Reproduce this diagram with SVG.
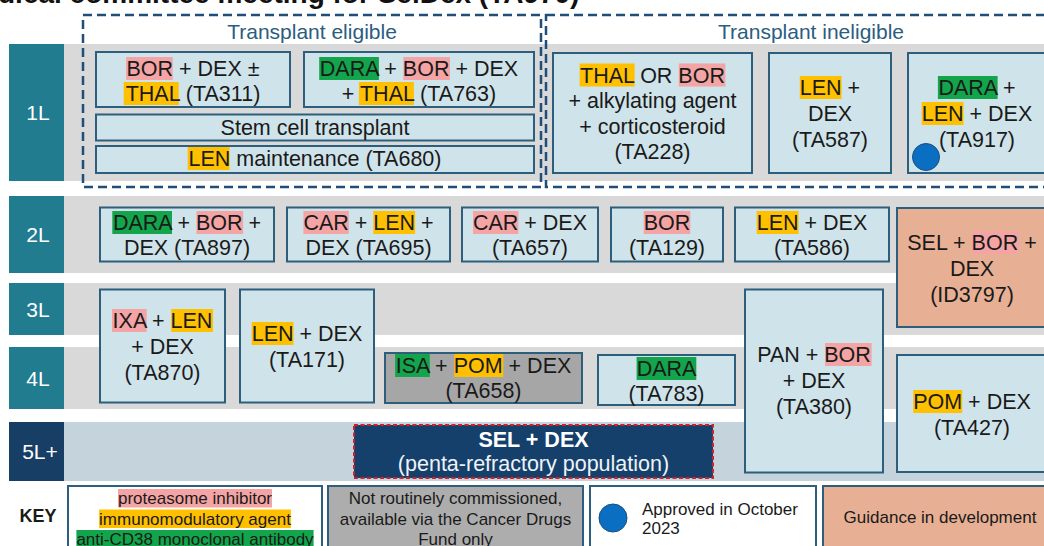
<svg xmlns="http://www.w3.org/2000/svg" width="1044" height="546" viewBox="0 0 1044 546">
<style>
text{font-family:"Liberation Sans",Arial,sans-serif;fill:#1a1a1a}
.t{font-size:21.5px;text-anchor:middle}
.k{font-size:17px;text-anchor:middle}
.lbl{font-size:21px;fill:#fff;text-anchor:middle}
.band{fill:#d9d9d9}
.teal{fill:#217c8f}
.box{fill:#cfe3ea;stroke:#2d5f7c;stroke-width:2}
.sal{fill:#e7af94;stroke:#2d5f7c;stroke-width:2}
.gry{fill:#a6a6a6;stroke:#2d5f7c;stroke-width:2}
.dash{fill:none;stroke:#1f4e79;stroke-width:2.5;stroke-dasharray:9 5}
.hp{fill:#f4a4a4}
.ho{fill:#ffc000}
.hg{fill:#13a54b}
.grp{font-size:21px;fill:#2b5d80;text-anchor:middle}
</style>
<rect width="1044" height="546" fill="#fff"/>
<text x="-2" y="3" style="font-size:28px;font-weight:bold;fill:#111">dical committee meeting for SelDex (TA970)</text>

<g id="bands">
<rect class="band" x="64" y="44" width="980" height="137"/>
<rect class="band" x="64" y="196" width="980" height="77"/>
<rect class="band" x="64" y="283" width="980" height="52"/>
<rect class="band" x="64" y="347" width="980" height="62"/>
<rect x="64" y="422" width="980" height="59" fill="#c5d3dc"/>
</g>

<g id="row-1L"><rect class="teal" x="9" y="44" width="55" height="137"/><text class="lbl" x="38" y="120">1L</text></g>
<g id="row-2L"><rect class="teal" x="9" y="196" width="55" height="77"/><text class="lbl" x="38" y="242">2L</text></g>
<g id="row-3L"><rect class="teal" x="9" y="283" width="55" height="52"/><text class="lbl" x="38" y="317">3L</text></g>
<g id="row-4L"><rect class="teal" x="9" y="347" width="55" height="62"/><text class="lbl" x="38" y="386">4L</text></g>
<g id="row-5L"><rect x="9" y="422" width="55" height="59" fill="#173f66"/><text class="lbl" x="40" y="459">5L+</text></g>

<g id="group-eligible"><rect class="dash" x="83" y="15" width="458" height="172"/><text class="grp" x="312" y="39">Transplant eligible</text></g>
<g id="group-ineligible"><rect class="dash" x="546" y="15" width="510" height="172"/><text class="grp" x="811" y="39">Transplant ineligible</text></g>

<g id="n-ta311"><rect class="box" x="96" y="52" width="194" height="55"/>
<rect class="hp" x="126.1" y="57" width="46.6" height="23"/><rect class="ho" x="123.7" y="82" width="55" height="23"/>
<text class="t" x="193" y="76">BOR + DEX ±</text><text class="t" x="193" y="101">THAL (TA311)</text></g>

<g id="n-ta763"><rect class="box" x="304" y="52" width="230" height="55"/>
<rect class="hg" x="319.2" y="57" width="59.7" height="23"/><rect class="hp" x="403.4" y="57" width="46.6" height="23"/><rect class="ho" x="358.9" y="82" width="55" height="23"/>
<text class="t" x="419" y="76">DARA + BOR + DEX</text><text class="t" x="419" y="101">+ THAL (TA763)</text></g>

<g id="n-sct"><rect class="box" x="96" y="114.5" width="438" height="26"/>
<text class="t" x="315" y="135">Stem cell transplant</text></g>

<g id="n-ta680"><rect class="box" x="96" y="146" width="438" height="27"/>
<rect class="ho" x="187.7" y="147" width="41.8" height="23"/>
<text class="t" x="315" y="166">LEN maintenance (TA680)</text></g>

<g id="n-ta228"><rect class="box" x="553" y="53" width="199" height="120"/>
<rect class="ho" x="579.6" y="63.5" width="55" height="23"/><rect class="hp" x="678.8" y="63.5" width="46.6" height="23"/>
<text class="t" x="652.5" y="82.5">THAL OR BOR</text><text class="t" x="652.5" y="108">+ alkylating agent</text><text class="t" x="652.5" y="133.5">+ corticosteroid</text><text class="t" x="652.5" y="159">(TA228)</text></g>

<g id="n-ta587"><rect class="box" x="769" y="53" width="122" height="120"/>
<rect class="ho" x="799.8" y="76" width="41.8" height="23"/>
<text class="t" x="830" y="95">LEN +</text><text class="t" x="830" y="121">DEX</text><text class="t" x="830" y="147">(TA587)</text></g>

<g id="n-ta917"><rect class="box" x="908" y="53" width="142" height="120"/>
<rect class="hg" x="937.9" y="76" width="59.7" height="23"/><rect class="ho" x="921.7" y="102" width="41.8" height="23"/>
<text class="t" x="977" y="95">DARA +</text><text class="t" x="977" y="121">LEN + DEX</text><text class="t" x="977" y="147">(TA917)</text>
<circle cx="926" cy="157" r="13.5" fill="#0a6fc2" stroke="#1f4e79" stroke-width="1"/></g>

<g id="n-ta897"><rect class="box" x="100" y="207.5" width="174" height="54"/>
<rect class="hg" x="112.3" y="211" width="59.7" height="23"/><rect class="hp" x="196.5" y="211" width="46.6" height="23"/>
<text class="t" x="187" y="230">DARA + BOR +</text><text class="t" x="187" y="255">DEX (TA897)</text></g>

<g id="n-ta695"><rect class="box" x="287" y="207.5" width="163" height="54"/>
<rect class="hp" x="303.4" y="211" width="45.4" height="23"/><rect class="ho" x="373.3" y="211" width="41.8" height="23"/>
<text class="t" x="368.5" y="230">CAR + LEN +</text><text class="t" x="368.5" y="255">DEX (TA695)</text></g>

<g id="n-ta657"><rect class="box" x="462" y="207.5" width="136" height="54"/>
<rect class="hp" x="473" y="211" width="45.4" height="23"/>
<text class="t" x="530" y="230">CAR + DEX</text><text class="t" x="530" y="255">(TA657)</text></g>

<g id="n-ta129"><rect class="box" x="611" y="207.5" width="112" height="54"/>
<rect class="hp" x="643.7" y="211" width="46.6" height="23"/>
<text class="t" x="667" y="230">BOR</text><text class="t" x="667" y="255">(TA129)</text></g>

<g id="n-ta586"><rect class="box" x="735" y="207.5" width="154" height="54"/>
<rect class="ho" x="756.7" y="211" width="41.8" height="23"/>
<text class="t" x="812" y="230">LEN + DEX</text><text class="t" x="812" y="255">(TA586)</text></g>

<g id="n-id3797"><rect class="sal" x="897" y="208" width="153" height="119"/>
<rect class="hp" x="972" y="231" width="46.6" height="23"/>
<text class="t" x="972" y="250">SEL + BOR +</text><text class="t" x="972" y="276">DEX</text><text class="t" x="972" y="302">(ID3797)</text></g>

<g id="n-ta870"><rect class="box" x="100" y="289.5" width="125" height="113"/>
<rect class="hp" x="112" y="309" width="34.7" height="23"/><rect class="ho" x="171.2" y="309" width="41.8" height="23"/>
<text class="t" x="162.5" y="328">IXA + LEN</text><text class="t" x="162.5" y="354">+ DEX</text><text class="t" x="162.5" y="380">(TA870)</text></g>

<g id="n-ta171"><rect class="box" x="240" y="289.5" width="134" height="113"/>
<rect class="ho" x="251.7" y="322" width="41.8" height="23"/>
<text class="t" x="307" y="341">LEN + DEX</text><text class="t" x="307" y="367">(TA171)</text></g>

<g id="n-ta658"><rect class="gry" x="385" y="353" width="197" height="50"/>
<rect class="hg" x="395.1" y="354" width="34.7" height="23"/><rect class="ho" x="454.3" y="354" width="49" height="23"/>
<text class="t" x="483.5" y="373">ISA + POM + DEX</text><text class="t" x="483.5" y="398">(TA658)</text></g>

<g id="n-ta783"><rect class="box" x="598" y="355" width="137" height="50"/>
<rect class="hg" x="636.6" y="357" width="59.7" height="23"/>
<text class="t" x="666.5" y="376">DARA</text><text class="t" x="666.5" y="401">(TA783)</text></g>

<g id="n-ta380"><rect class="box" x="745" y="289.5" width="138" height="183"/>
<rect class="hp" x="825" y="343" width="46.6" height="23"/>
<text class="t" x="814" y="362">PAN + BOR</text><text class="t" x="814" y="388">+ DEX</text><text class="t" x="814" y="414">(TA380)</text></g>

<g id="n-ta427"><rect class="box" x="897" y="355" width="153" height="117"/>
<rect class="ho" x="913.2" y="390" width="49" height="23"/>
<text class="t" x="972" y="409">POM + DEX</text><text class="t" x="972" y="435">(TA427)</text></g>

<g id="n-seldex"><rect x="354" y="425" width="359" height="53" fill="#15406b" stroke="#d0202a" stroke-width="2" stroke-dasharray="4 2.5"/>
<text class="t" x="533.5" y="447" style="font-weight:bold;fill:#fff">SEL + DEX</text><text class="t" x="533.5" y="471" style="fill:#eef3f8">(penta-refractory population)</text></g>

<g id="connectors"/>

<g id="key">
<text x="38" y="522" style="font-size:18px;font-weight:bold;text-anchor:middle">KEY</text>
<g id="key-classes"><rect x="68" y="486" width="254" height="70" fill="#fff" stroke="#2d5f7c" stroke-width="2"/>
<rect class="hp" x="118" y="489" width="154" height="18.5"/><rect class="ho" x="99.1" y="509.5" width="191.8" height="18.5"/><rect class="hg" x="76.4" y="530" width="237.2" height="18.5"/>
<text class="k" x="195" y="504">proteasome inhibitor</text><text class="k" x="195" y="524.5">immunomodulatory agent</text><text class="k" x="195" y="545">anti-CD38 monoclonal antibody</text></g>
<g id="key-cdf"><rect x="328" y="486" width="255" height="70" fill="#adadad" stroke="#2d5f7c" stroke-width="2"/>
<text class="k" x="455.5" y="504">Not routinely commissioned,</text><text class="k" x="455.5" y="524.5">available via the Cancer Drugs</text><text class="k" x="455.5" y="545">Fund only</text></g>
<g id="key-approved"><rect x="590" y="486" width="226" height="70" fill="#fff" stroke="#2d5f7c" stroke-width="2"/>
<circle cx="613" cy="518" r="14" fill="#0a6fc2" stroke="#1f4e79" stroke-width="1"/>
<text x="642" y="515" style="font-size:17px">Approved in October</text><text x="642" y="534" style="font-size:17px">2023</text></g>
<g id="key-dev"><rect x="823" y="486" width="230" height="70" fill="#e7af94" stroke="#2d5f7c" stroke-width="2"/>
<text class="k" x="940" y="523">Guidance in development</text></g>
</g>
</svg>
